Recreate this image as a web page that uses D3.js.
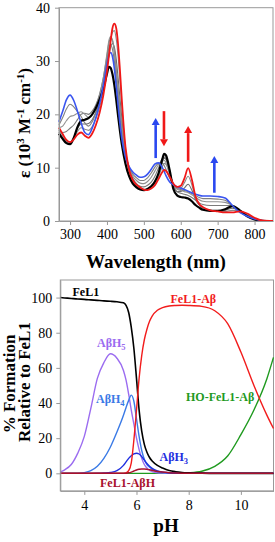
<!DOCTYPE html>
<html><head><meta charset="utf-8">
<script src="https://cdn.jsdelivr.net/npm/d3@7"></script>
<style>
html,body{margin:0;padding:0;background:#fff;}
svg{display:block;}
text{font-family:"Liberation Serif","Times New Roman",serif;}
</style></head>
<body>
<svg id="c" width="275" height="542" font-family="Liberation Serif, serif"></svg>
<script>
// ---------- Top panel: UV-vis spectra ----------
const wl = [270,280,290,300,310,320,330,340,350,360,370,380,390,400,405,410,415,420,425,430,435,440,450,460,470,480,490,500,510,520,530,540,550,555,560,570,580,590,600,610,620,630,640,650,660,680,700,720,740,760,780,800,820,850];
const specBlack = [16.4,15.4,14.6,14.4,15.6,17.6,18.8,19.0,19.3,20.0,21.2,22.8,24.8,27.6,28.9,28.7,27.5,25.5,22.8,19.8,17.0,14.5,10.8,8.4,7.0,6.3,5.9,5.8,6.0,6.5,7.4,9.0,11.6,12.6,12.3,9.5,6.0,4.8,4.5,4.4,4.2,3.7,3.0,2.5,2.1,1.9,1.9,2.2,2.8,2.0,0.9,0.3,0.05,0];
const specRed = [17.5,16.3,15.2,14.8,15.3,16.2,16.6,16.0,15.6,16.4,18.0,20.3,23.5,28.0,30.8,33.8,36.2,37.0,36.2,33.2,28.5,23.0,14.0,9.6,7.7,6.8,6.3,5.9,5.8,6.1,6.7,7.9,9.2,9.6,9.4,8.3,7.0,6.4,6.6,8.0,9.9,7.8,4.6,3.2,2.6,2.0,1.8,1.6,1.6,1.8,1.4,0.6,0.1,0];
const specBlue = [18.6,20.6,22.7,23.6,22.6,20.6,18.4,16.6,16.2,17.4,19.4,22.0,25.4,29.4,31.0,31.6,30.8,28.6,25.4,21.8,18.4,15.6,12.0,10.2,9.2,8.6,8.2,8.3,8.8,9.7,10.7,10.9,10.0,9.3,8.5,7.3,6.8,6.4,6.2,5.9,5.6,5.3,5.0,4.8,4.7,4.7,4.6,4.3,2.9,1.6,0.9,0.4,0.1,0];
const specGray1 = [16.7,15.6,14.8,14.6,15.5,17.3,18.2,18.2,18.3,19.0,20.4,22.3,25.0,28.8,31.0,32.6,33.3,32.6,30.4,27.0,23.2,19.5,13.0,9.3,7.5,6.6,6.1,5.9,6.0,6.4,7.2,8.7,11.0,11.8,11.6,9.2,6.5,5.5,5.5,6.2,6.9,5.8,4.0,3.0,2.4,2.0,1.9,2.0,2.4,1.9,1.1,0.4,0.08,0];
const specGray2 = [17.1,16.0,15.0,14.7,15.4,16.8,17.5,17.2,17.0,17.7,19.2,21.3,24.2,28.5,31.3,33.9,35.4,35.7,34.2,31.0,26.5,21.8,13.6,9.5,7.6,6.7,6.2,5.9,5.9,6.2,6.9,8.3,10.2,10.8,10.6,8.8,6.8,6.0,6.1,7.2,8.4,6.8,4.3,3.1,2.5,2.0,1.8,1.8,2.0,1.8,1.2,0.5,0.1,0];
const specGray3 = [17.0,16.6,16.8,17.4,18.0,19.0,20.0,20.2,20.0,20.6,21.8,23.8,26.8,31.0,33.3,34.3,33.8,31.8,28.6,25.0,21.5,18.2,13.0,9.8,8.0,7.0,6.5,6.4,6.7,7.3,8.4,10.0,11.7,12.0,11.6,9.3,6.6,5.5,5.2,5.0,4.8,4.4,3.9,3.4,3.1,2.9,2.9,2.9,2.9,2.0,1.0,0.35,0.06,0];
const specGray4 = [17.5,17.8,18.8,19.6,19.8,20.2,20.5,20.0,19.4,20.0,21.5,23.6,26.8,31.4,33.8,34.6,34.0,31.8,28.4,24.6,21.0,17.8,13.0,10.0,8.4,7.6,7.1,7.0,7.4,8.2,9.4,10.6,11.4,11.4,10.9,8.8,7.0,6.0,5.7,5.5,5.3,4.9,4.5,4.0,3.7,3.6,3.6,3.5,2.9,1.8,0.95,0.35,0.06,0];
const specGray5 = [18.0,19.4,21.0,21.9,21.4,20.5,19.6,18.4,17.8,18.6,20.3,22.6,25.8,30.2,32.4,33.0,32.2,30.0,26.6,23.0,19.6,16.6,12.5,10.1,8.8,8.1,7.6,7.6,8.1,9.0,10.1,10.8,10.8,10.4,9.7,8.0,7.0,6.2,5.9,5.7,5.5,5.1,4.8,4.4,4.2,4.2,4.1,3.9,2.9,1.7,0.9,0.35,0.06,0];
const arrowWl   = [532, 554.5, 620, 691];
const arrowFrom = [11.8, 20.6, 11.1, 5.3];
const arrowTo   = [19.3, 14.0, 17.8, 12.2];
const arrowCol  = ["blue","red","red","blue"];
const topXTicks = [300,400,500,600,700,800];
const topYTicks = [0,10,20,30,40];

// ---------- Bottom panel: speciation ----------
const pH = [3.08,3.25,3.5,3.75,4.0,4.25,4.5,4.75,5.0,5.25,5.5,5.6,5.7,5.8,5.9,6.0,6.1,6.2,6.3,6.4,6.5,6.6,6.8,7.0,7.25,7.5,7.75,8.0,8.5,9.0,9.5,10.0,10.5,11.0,11.25];
const FeL1     = [100,99.8,99.5,99.2,99.0,98.7,98.4,98.1,97.9,97.6,97.0,95.5,91.5,83,71,54,36,24,16.5,12,9,7,4.5,3,1.6,0.9,0.5,0.3,0.1,0,0,0,0,0,0];
const FeL1Ab   = [0,0,0,0,0,0,0,0,0,0,0,0.3,1.5,6,19,36,54,67,76,82,86.5,89.5,92.8,94.3,95.2,95.5,95.6,95.5,95.0,92.5,85,69,50,33,25.5];
const HOFeL1Ab = [0,0,0,0,0,0,0,0,0,0,0,0,0,0,0,0,0,0,0,0,0,0,0,0,0,0,0.1,0.3,1.2,4,10,22,36,54,66];
const AbH5     = [0.8,2,5,11.5,21,37,54,63,68,65.5,58.5,53,45,36,28,20,13.5,8.5,5,3,1.7,1,0.3,0.1,0,0,0,0,0,0,0,0,0,0,0];
const AbH4     = [0,0,0,0,0.4,1.5,4,8.5,15,23.5,33,37.5,41.5,44.5,41,31,21,13,8,5,3.5,2.2,0.9,0.4,0.15,0.05,0,0,0,0,0,0,0,0,0];
const AbH3     = [0,0,0,0,0,0,0.05,0.2,0.5,1.5,4.5,6.5,8.5,10,11,11.4,11,9.5,7.5,5.6,4.0,2.8,1.4,0.7,0.3,0.1,0,0,0,0,0,0,0,0,0];
const FeL1AbH  = [0,0,0,0,0,0,0,0,0,0,0,0.1,0.3,0.7,1.3,1.9,2.3,2.5,2.5,2.3,2.0,1.7,1.1,0.7,0.35,0.15,0.05,0,0,0,0,0,0,0,0];
const botXTicks = [4,6,8,10];
const botYTicks = [0,20,40,60,80,100];

const svg = d3.select("#c");
const FRAME = "#999";
const SERIF = "'Liberation Serif','Times New Roman',serif";

function styleAxis(g){
  g.attr("font-family", "Liberation Serif, serif");
  g.selectAll(".domain").attr("stroke", FRAME);
  g.selectAll(".tick line").attr("stroke", FRAME);
  g.selectAll(".tick text").attr("fill","#000")
    .style("font-family",SERIF).style("font-size","14px");
}

// ===== TOP =====
const xT = d3.scaleLinear().domain([270,850]).range([59,273]);
const yT = d3.scaleLinear().domain([0,40]).range([221,7.7]);
const gT = svg.append("g");
gT.append("rect").attr("x",xT(270)).attr("y",yT(40)).attr("width",xT(850)-xT(270)).attr("height",yT(0)-yT(40))
  .attr("fill","none").attr("stroke",FRAME).attr("stroke-width",1);
const ltop = d3.line().x((d,i)=>xT(wl[i])).y(d=>yT(d)).curve(d3.curveMonotoneX);
const grays = [specGray1,specGray2,specGray3,specGray4,specGray5];
const grayCols = ["#6e6e6e","#8a8a8a","#7a7a7a","#909090","#808080"];
grays.forEach((s,k)=>gT.append("path").attr("d",ltop(s)).attr("fill","none").attr("stroke",grayCols[k]).attr("stroke-width",1.1));
gT.append("path").attr("d",ltop(specBlack)).attr("fill","none").attr("stroke","#000").attr("stroke-width",2.2);
gT.append("path").attr("d",ltop(specBlue)).attr("fill","none").attr("stroke","#3a55f0").attr("stroke-width",1.6);
gT.append("path").attr("d",ltop(specRed)).attr("fill","none").attr("stroke","#f01818").attr("stroke-width",1.8);
// arrows
const colMap = {blue:"#2a48f0", red:"#f01818"};
arrowWl.forEach((w,i)=>{
  const x = xT(w), y0 = yT(arrowFrom[i]), y1 = yT(arrowTo[i]);
  const dir = y1 < y0 ? -1 : 1; // -1 up
  const hl = 7, hw = 4;
  gT.append("line").attr("x1",x).attr("x2",x).attr("y1",y0).attr("y2",y1 - dir*hl)
    .attr("stroke",colMap[arrowCol[i]]).attr("stroke-width",2.6);
  gT.append("path").attr("d",`M${x-hw},${y1-dir*hl}L${x+hw},${y1-dir*hl}L${x},${y1}Z`).attr("fill",colMap[arrowCol[i]]);
});
const axTX = gT.append("g").attr("transform",`translate(0,${yT(0)})`)
  .call(d3.axisBottom(xT).tickValues(topXTicks).tickSize(4).tickPadding(4).tickSizeOuter(0));
styleAxis(axTX);
const axTY = gT.append("g").attr("transform",`translate(${xT(270)},0)`)
  .call(d3.axisLeft(yT).tickValues(topYTicks).tickSize(4).tickPadding(5).tickSizeOuter(0));
styleAxis(axTY);
gT.append("text").attr("x",156).attr("y",268).attr("text-anchor","middle").style("font-family",SERIF)
  .style("font-size","19px").style("font-weight","bold").text("Wavelength (nm)");
const yl = gT.append("text").attr("transform","translate(30,123) rotate(-90)").attr("text-anchor","middle")
  .style("font-family",SERIF).style("font-size","17px").style("font-weight","bold");
yl.append("tspan").text("ε (10");
yl.append("tspan").attr("dy",-6).style("font-size","11px").text("3");
yl.append("tspan").attr("dy",6).text(" M");
yl.append("tspan").attr("dy",-6).style("font-size","11px").text("-1");
yl.append("tspan").attr("dy",6).text(" cm");
yl.append("tspan").attr("dy",-6).style("font-size","11px").text("-1");
yl.append("tspan").attr("dy",6).text(")");

// ===== BOTTOM =====
const xB = d3.scaleLinear().domain([3.08,11.25]).range([60.3,273.5]);
const yB = d3.scaleLinear().domain([-10,110]).range([490.9,280]);
const gB = svg.append("g");
gB.append("rect").attr("x",xB(3.08)).attr("y",yB(110)).attr("width",xB(11.25)-xB(3.08)).attr("height",yB(-10)-yB(110))
  .attr("fill","none").attr("stroke",FRAME).attr("stroke-width",1);
const lb = d3.line().x((d,i)=>xB(pH[i])).y(d=>yB(d)).curve(d3.curveMonotoneX);
const species = [
  {v:HOFeL1Ab, c:"#1f9a1f", w:1.4},
  {v:AbH5, c:"#9b6cf0", w:1.4},
  {v:AbH4, c:"#3a7ae6", w:1.4},
  {v:AbH3, c:"#1f2fe0", w:1.4},
  {v:FeL1, c:"#000000", w:1.6},
  {v:FeL1Ab, c:"#f21c1c", w:1.4},
  {v:FeL1AbH, c:"#a8102c", w:1.5}
];
species.forEach(s=>gB.append("path").attr("d",lb(s.v)).attr("fill","none").attr("stroke",s.c).attr("stroke-width",s.w));
const axBX = gB.append("g").attr("transform",`translate(0,${yB(-10)})`)
  .call(d3.axisBottom(xB).tickValues(botXTicks).tickSize(4).tickPadding(5).tickSizeOuter(0));
styleAxis(axBX);
const axBY = gB.append("g").attr("transform",`translate(${xB(3.08)},0)`)
  .call(d3.axisLeft(yB).tickValues(botYTicks).tickSize(4).tickPadding(4).tickSizeOuter(0));
styleAxis(axBY);
gB.append("text").attr("x",166).attr("y",532).attr("text-anchor","middle").style("font-family",SERIF)
  .style("font-size","19px").style("font-weight","bold").text("pH");
gB.append("text").attr("transform","translate(15,384) rotate(-90)").attr("text-anchor","middle").style("font-family",SERIF)
  .style("font-size","17px").style("font-weight","bold").text("% Formation");
gB.append("text").attr("transform","translate(30,382) rotate(-90)").attr("text-anchor","middle").style("font-family",SERIF)
  .style("font-size","17px").style("font-weight","bold").text("Relative to FeL1");

function lab(x,y,col,main,sub){
  const t = gB.append("text").attr("x",x).attr("y",y).attr("fill",col).style("font-family",SERIF)
    .style("font-size","12px").style("font-weight","bold");
  t.append("tspan").text(main);
  if(sub){ t.append("tspan").attr("dy",3).style("font-size","8.5px").text(sub); }
}
lab(72.5,296,"#000","FeL1");
lab(97,347,"#9b6cf0","AβH","5");
lab(96,402.5,"#3a7ae6","AβH","4");
lab(170.5,303,"#f21c1c","FeL1-Aβ");
lab(186,400.5,"#1f9a1f","HO-FeL1-Aβ");
lab(159.5,461,"#1f2fe0","AβH","3");
lab(100,486.5,"#a8102c","FeL1-AβH");
</script>
</body></html>
